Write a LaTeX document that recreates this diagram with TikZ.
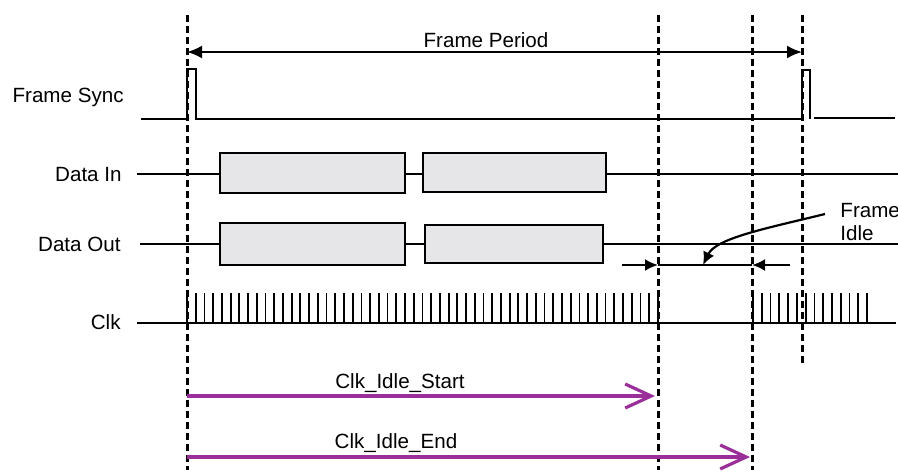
\documentclass[tikz,border=0pt]{standalone}
\usepackage{fontspec}
\setmainfont{Liberation Sans}
\usetikzlibrary{arrows.meta}
\definecolor{slotgrey}{HTML}{E6E6E8}
\definecolor{idlepurple}{HTML}{9B2F99}

\begin{document}
\begin{tikzpicture}[x=0.5pt, y=-0.5pt,
every node/.style = {font=\fontsize{10.3}{11.5}\selectfont, inner sep=0pt},
signal/.style = {line width=1.1pt, draw},
marker/.style = {line width=1.5pt, dash pattern=on 3.5pt off 2pt},
slot/.style = {line width=1.1pt, draw, fill=slotgrey},
tick/.style = {line width=0.9pt},
period/.style = {line width=1.1pt, {Latex[length=7.5pt,width=6.5pt]}-{Latex[length=7.5pt,width=6.5pt]}},
gap/.style = {line width=1.1pt, -{Latex[length=6.5pt,width=6pt]}},
idle/.style = {line width=1.6pt, color=idlepurple, -{Straight Barb[length=13pt,width=12pt]}}
]
\useasboundingbox (0,0) rectangle (898,472);

% signal names
\node [anchor=base east] (fsync) at (124,102) {Frame Sync};
\node [anchor=base east] (din) at (122,181) {Data In};
\node [anchor=base east] (dout) at (121,251) {Data Out};
\node [anchor=base east] (clk) at (121,329) {Clk};

% frame markers
\foreach \x/\yend in {187/470, 658/470, 752/470, 802/365}
  \draw [marker] (\x,15) -- (\x,\yend);

% frame period
\coordinate (pstart) at (187,52);
\coordinate (pend) at (802,52);
\draw [period] (pstart) -- (pend);
\node [anchor=base] (period) at (486,47) {Frame Period};

% frame sync
\draw [signal] (141,119) -- (187,119) -- (187,69) -- (196,69) -- (196,119)
  -- (802,119) -- (802,70) -- (810,70) -- (810,119);
\draw [line width=0.6pt] (814,118) -- (895,118);

% data in
\draw [signal] (137,174) -- (220,174) (405,174) -- (423,174) (606,174) -- (898,174);
\draw [slot] (220,153) rectangle (405,193);
\draw [slot] (423,153) rectangle (606,192);

% data out
\draw [signal] (140,244) -- (220,244) (405,244) -- (425,244) (603,244) -- (898,244);
\draw [slot] (220,223) rectangle (405,265);
\draw [slot] (425,225) rectangle (603,263);

% clock
\draw [signal] (137,323) -- (896,323);
\foreach \i in {0,...,54}
  \draw [tick] (187+\i*8.72,293) -- ++(0,30);
\foreach \i in {0,...,13}
  \draw [tick] (753+\i*8.77,293) -- ++(0,30);

% frame idle
\coordinate (gapL) at (622,265);
\coordinate (gapR) at (790,265);
\coordinate (idleL) at (658,265);
\coordinate (idleR) at (752,265);
\draw [gap] (gapL) -- (idleL);
\draw [gap] (gapR) -- (idleR);
\draw [line width=1.1pt] (idleL) -- (idleR);
\node [anchor=base west, align=left] (fidle) at (840,240) {Frame\\Idle};
\coordinate (bend) at (825,214);
\coordinate (hit) at (703,265);
\draw [gap] (bend) .. controls (768,228) and (716,238) .. (hit);

% clock idle counters
\coordinate (cstart) at (187,396);
\coordinate (cstop) at (655,396);
\coordinate (estart) at (187,457);
\coordinate (estop) at (750,457);
\draw [idle] (cstart) -- (cstop);
\draw [idle] (estart) -- (estop);
\node [anchor=base] (idlestart) at (400,388) {Clk\_Idle\_Start};
\node [anchor=base] (idleend) at (396,448) {Clk\_Idle\_End};

\end{tikzpicture}
\end{document}
